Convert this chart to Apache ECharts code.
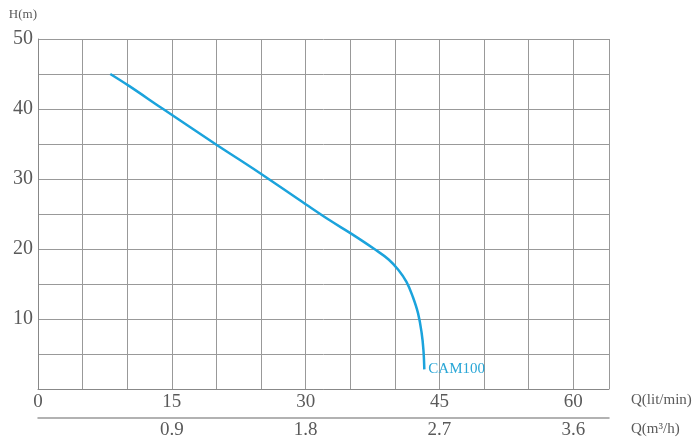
<!DOCTYPE html>
<html><head><meta charset="utf-8">
<script src="https://cdn.jsdelivr.net/npm/echarts@6/dist/echarts.min.js"></script>
<style>html,body{margin:0;padding:0;background:#fff}#c{width:700px;height:445px}</style>
</head><body><div id="c"></div>
<script>
var flowLitMin = [8.1, 10.2, 13.9, 20, 24.1, 30, 32.7, 35.1, 37.7, 39.3, 40.4, 41.3, 42.0, 42.6, 43.0, 43.2, 43.3];
var headM      = [45, 43.3, 40.1, 34.9, 31.5, 26.4, 24.1, 22.2, 20, 18.5, 17.0, 15.3, 13.2, 10.8, 8, 5.6, 2.8];
var qTickLabels = [0, 15, 30, 45, 60];
var m3TickLabels = ['0.9', '1.8', '2.7', '3.6'];
var hTickLabels = [10, 20, 30, 40, 50];
var seriesName = 'CAM100';

var data = flowLitMin.map(function (q, i) { return [q, headM[i]]; });
var font = 'Liberation Serif';
var gridColor = '#999999';
var textColor = '#5a5a5a';

var chart = echarts.init(document.getElementById('c'));
chart.setOption({
  animation: false,
  grid: { left: 38, top: 39, right: 91, bottom: 56 },
  xAxis: [{
    type: 'value', min: 0, max: 64, interval: 5,
    name: 'Q(lit/min)', nameLocation: 'end', nameGap: 22,
    nameTextStyle: { fontFamily: font, fontSize: 15, color: textColor, verticalAlign: 'top', padding: [4, 0, 0, 0] },
    axisLine: { show: true, lineStyle: { color: '#888888', width: 1 } },
    axisTick: { show: false },
    splitLine: { show: true, lineStyle: { color: gridColor, width: 1 } },
    axisLabel: {
      fontFamily: font, fontSize: 19, color: textColor, margin: 4,
      formatter: function (v) { return qTickLabels.indexOf(v) >= 0 ? String(v) : ''; }
    }
  }, {
    type: 'value', min: 0, max: 64, interval: 15, position: 'bottom', offset: 29,
    name: 'Q(m³/h)', nameLocation: 'end', nameGap: 22,
    nameTextStyle: { fontFamily: font, fontSize: 15, color: textColor, verticalAlign: 'top', padding: [4, 0, 0, 0] },
    axisLine: { show: true, lineStyle: { color: '#999999', width: 1.5 } },
    axisTick: { show: false },
    splitLine: { show: false },
    axisLabel: {
      fontFamily: font, fontSize: 19, color: textColor, margin: 3,
      formatter: function (v) {
        var i = qTickLabels.indexOf(v);
        return i > 0 ? m3TickLabels[i - 1] : '';
      }
    }
  }],
  yAxis: {
    type: 'value', min: 0, max: 50, interval: 5,
    name: 'H(m)', nameLocation: 'end', nameGap: 18,
    nameTextStyle: { fontFamily: font, fontSize: 13, color: textColor, align: 'right', padding: [0, 1, 0, 0] },
    axisLine: { show: true, lineStyle: { color: '#888888', width: 1 } },
    axisTick: { show: false },
    splitLine: { show: true, lineStyle: { color: gridColor, width: 1 } },
    axisLabel: {
      fontFamily: font, fontSize: 20, color: textColor, margin: 5,
      formatter: function (v) { return hTickLabels.indexOf(v) >= 0 ? String(v) : ''; }
    }
  },
  series: [{
    type: 'line', name: seriesName, data: data, xAxisIndex: 0,
    smooth: 0.4, symbol: 'none',
    lineStyle: { color: '#1ba3dc', width: 2.5 },
    endLabel: { show: true, formatter: seriesName, fontFamily: font, fontSize: 15, color: '#29a6d6', distance: 4 }
  }]
});
</script></body></html>
